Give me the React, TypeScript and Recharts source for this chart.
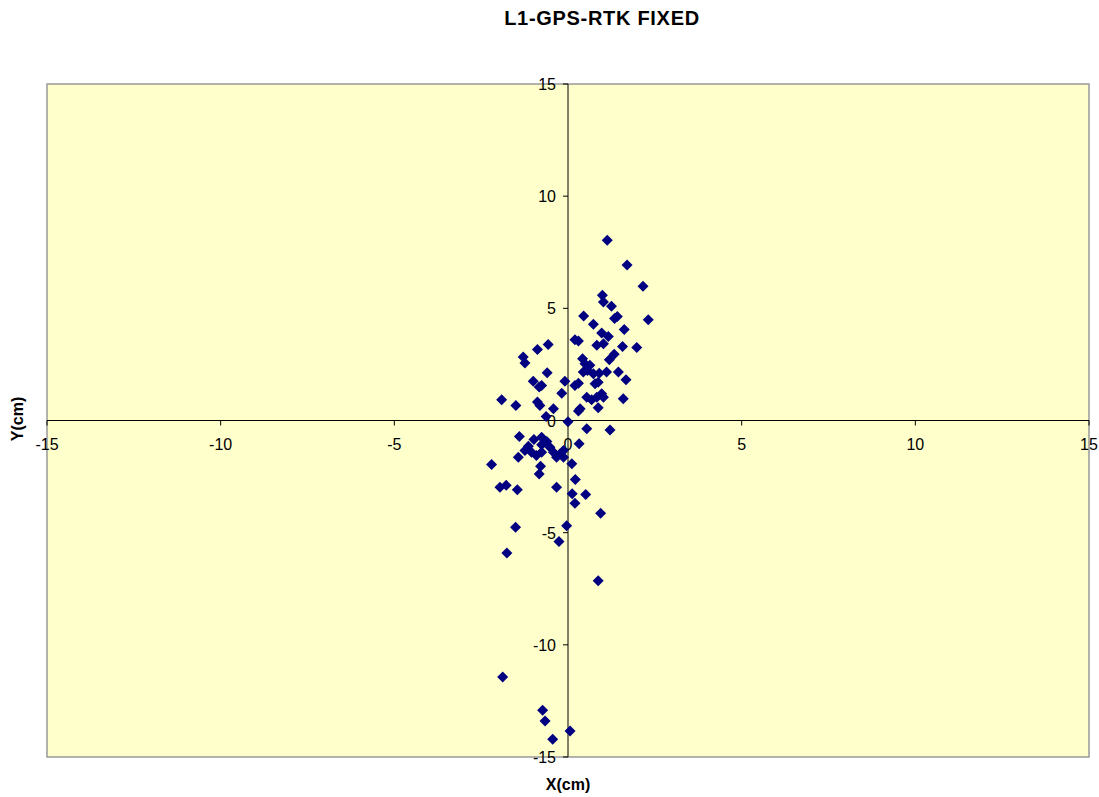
// L1-GPS-RTK FIXED — scatter of position error (cm) around the origin

import {
  ScatterChart,
  Scatter,
  XAxis,
  YAxis,
  ReferenceArea,
  ReferenceLine,
  ReferenceDot,
} from "recharts";

const TITLE = "L1-GPS-RTK FIXED";
const X_LABEL = "X(cm)";
const Y_LABEL = "Y(cm)";

const xTicks = [-15, -10, -5, 0, 5, 10, 15];
const yTicks = [-15, -10, -5, 0, 5, 10, 15];

// East (x) and north (y) errors
const xCm = [
  1.13, 1.7, 2.16, 0.99, 1.02, 1.25, 0.45, 0.73, 1.34, 1.42, 2.31, 1.62,
  0.2, 0.3, 0.97, 1.16, 0.83, 1.02, 1.57, 1.98, 1.19, 1.33,
  0.42, 0.49, 0.63, 0.56, 0.44, 0.73, 0.9, 1.11, 1.45, 1.67,
  0.78, 0.87, -0.09, 0.2, 0.3, -0.18, 0.54, 0.68, 0.83, 0.97, 1.02, 1.59, 0.35, 0.87,
  0.3,
  -0.57, -0.88, -1.29, -1.24, -0.6, -1.0, -0.83, -0.76, -1.91, -1.5, -0.88, -0.81, -0.42, -0.63,
  0.0, 0.54, 1.21,
  -1.4, -0.98, -0.76, -0.61, -0.76, -1.14, -1.24, -1.43, -1.05, -0.91, -0.76, -0.52, -0.42, -0.23, -0.13, -0.33, -0.13,
  0.32, 0.11, -0.79, -2.2, -0.83,
  0.21, -1.96, -1.78, -1.46, -0.33, 0.12, 0.51, 0.2,
  0.94, -1.51, -0.04, -0.26, -1.76, 0.87, -1.88, -0.73, -0.66, 0.06, -0.44,
];

const yCm = [
  8.04, 6.93, 5.98, 5.58, 5.28, 5.09, 4.66, 4.29, 4.55, 4.64, 4.49, 4.06,
  3.6, 3.54, 3.9, 3.75, 3.35, 3.42, 3.3, 3.25, 2.71, 2.95,
  2.75, 2.53, 2.46, 2.23, 2.16, 2.08, 2.11, 2.16, 2.16, 1.82,
  1.64, 1.71, 1.75, 1.56, 1.66, 1.22, 1.04, 0.92, 1.04, 1.19, 1.04, 0.97, 0.52, 0.57,
  0.42,
  3.39, 3.17, 2.83, 2.56, 2.13, 1.75, 1.49, 1.56, 0.92, 0.67, 0.82, 0.67, 0.52, 0.18,
  -0.06, -0.37, -0.42,
  -0.71, -0.85, -0.75, -0.94, -1.08, -1.15, -1.34, -1.64, -1.42, -1.56, -1.42, -1.19, -1.41, -1.49, -1.34, -1.64, -1.64,
  -1.04, -1.93, -2.04, -1.96, -2.38,
  -2.63, -2.98, -2.89, -3.09, -2.98, -3.27, -3.3, -3.69,
  -4.14, -4.76, -4.69, -5.39, -5.91, -7.14, -11.43, -12.92, -13.39, -13.84, -14.21,
];

const points = xCm.map((x, i) => ({ x, y: yCm[i] }));

const W = 1099;
const H = 797;
const FONT = '"Liberation Sans", Arial, sans-serif';

function Diamond(props: any) {
  const { cx, cy } = props;
  const r = 5.5;
  return (
    <polygon
      points={`${cx},${cy - r} ${cx + r},${cy} ${cx},${cy + r} ${cx - r},${cy}`}
      fill="#000080"
    />
  );
}

// tick mark + label hanging below the horizontal axis
const xTickShape = (label: number) => (p: any) => (
  <g>
    <line x1={p.cx} y1={p.cy} x2={p.cx} y2={p.cy + 5} stroke="#000" />
    <text
      x={p.cx}
      y={p.cy + 29}
      textAnchor="middle"
      fontFamily={FONT}
      fontSize={16}
      fill="#000"
    >
      {label}
    </text>
  </g>
);

// tick mark + label to the left of the vertical axis
const yTickShape = (label: number) => (p: any) => (
  <g>
    <line x1={p.cx - 5} y1={p.cy} x2={p.cx} y2={p.cy} stroke="#000" />
    <text
      x={p.cx - 12}
      y={p.cy + 6}
      textAnchor="end"
      fontFamily={FONT}
      fontSize={16}
      fill="#000"
    >
      {label}
    </text>
  </g>
);

export default function App() {
  return (
    <div
      style={{
        position: "absolute",
        left: 0,
        top: 0,
        width: W,
        height: H,
        background: "#fff",
        fontFamily: FONT,
      }}
    >
      <ScatterChart
        width={W}
        height={H}
        margin={{ top: 84, right: 10, bottom: 40, left: 47 }}
      >
        <XAxis type="number" dataKey="x" domain={[-15, 15]} ticks={xTicks} hide />
        <YAxis type="number" dataKey="y" domain={[-15, 15]} ticks={yTicks} hide />

        <ReferenceArea
          x1={-15}
          x2={15}
          y1={-15}
          y2={15}
          fill="#FFFFCC"
          fillOpacity={1}
          stroke="#999"
          strokeWidth={1.5}
        />
        <ReferenceLine y={0} stroke="#000" strokeWidth={1} />
        <ReferenceLine x={0} stroke="#000" strokeWidth={1} />

        {xTicks.map((t) => (
          <ReferenceDot
            key={`xt${t}`}
            x={t}
            y={0}
            r={0}
            ifOverflow="visible"
            shape={xTickShape(t)}
          />
        ))}
        {yTicks.map((t) => (
          <ReferenceDot
            key={`yt${t}`}
            x={0}
            y={t}
            r={0}
            ifOverflow="visible"
            shape={yTickShape(t)}
          />
        ))}

        <Scatter data={points} shape={Diamond} isAnimationActive={false} />
      </ScatterChart>

      <div
        style={{
          position: "absolute",
          left: 302,
          top: 4,
          width: 600,
          lineHeight: "28px",
          textAlign: "center",
          fontWeight: "bold",
          fontSize: 20,
          letterSpacing: 0.7,
        }}
      >
        {TITLE}
      </div>
      <div
        style={{
          position: "absolute",
          left: 468,
          top: 775,
          width: 200,
          lineHeight: "20px",
          textAlign: "center",
          fontWeight: "bold",
          fontSize: 16,
        }}
      >
        {X_LABEL}
      </div>
      <div
        style={{
          position: "absolute",
          left: -32,
          top: 409,
          width: 100,
          lineHeight: "20px",
          textAlign: "center",
          fontWeight: "bold",
          fontSize: 16,
          transform: "rotate(-90deg)",
        }}
      >
        {Y_LABEL}
      </div>
    </div>
  );
}
